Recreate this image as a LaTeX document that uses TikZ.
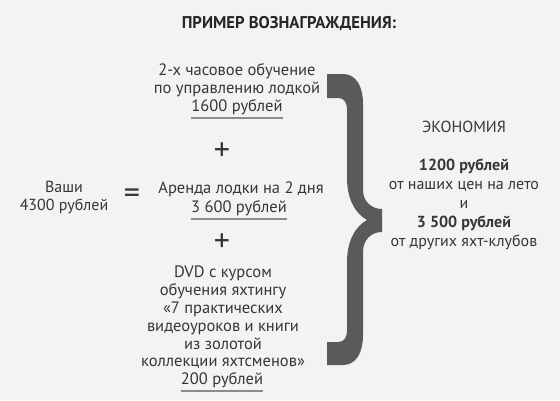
\documentclass[tikz,border=0pt]{standalone}
\usepackage{fontspec}
\setmainfont{PT Sans}
\newfontfamily\zagfont[FakeStretch=0.98]{PT Sans}
\definecolor{fon}{HTML}{F3F3F3}
\definecolor{tekst}{HTML}{363636}
\definecolor{skobka}{HTML}{5A5A5A}
\definecolor{cherta}{HTML}{8C8C8C}
\begin{document}
\begin{tikzpicture}[x=1pt, y=-1pt,
  every node/.style={text=tekst, inner sep=0pt, align=center, font=\fontsize{16.5}{17.8}\selectfont},
  znak/.style={font=\fontsize{32}{32}\selectfont},
  podch/.style={cherta, line width=1.6pt}]
  \fill[fon] (0,0) rectangle (560,400);
  \useasboundingbox (0,0) rectangle (560,400);

  % Заголовок
  \node (zag) at (289,23) [font=\zagfont\bfseries\fontsize{17}{20}\selectfont, text=black!85] {ПРИМЕР ВОЗНАГРАЖДЕНИЯ:};

  % Слагаемые
  \node (obuch) at (237,80) {2-х часовое обучение\\по управлению лодкой};
  \node (c1) at (237,107) {1600 рублей};
  \node (plus1) at (222,152) [znak] {+};
  \node (arenda) at (241,189) {Аренда лодки на 2 дня};
  \node (c2) at (239,208) {3 600 рублей};
  \node (plus2) at (222,243) [znak] {+};
  \node (dvd) at (223,317.5) {DVD с курсом\\обучения яхтингу\\«7 практических\\видеоуроков и книги\\из золотой\\коллекции яхтсменов»};
  \node (c3) at (222,380) {200 рублей};

  % Сумма
  \node (vashi) at (64,197) [font=\fontsize{16}{18}\selectfont] {Ваши\\4300 рублей};
  \node (ravno) at (132,196) [znak] {=};

  % Экономия
  \node (ekon) at (464,185) [font=\fontsize{16}{19}\selectfont] {ЭКОНОМИЯ\\[19pt]\textbf{1200 рублей}\\от наших цен на лето\\и\\\textbf{3 500 рублей}\\от других яхт-клубов};

  % Подчёркивания
  \draw[podch] ([yshift=-3pt]c1.south west) -- ([yshift=-3pt]c1.south east);
  \draw[podch] ([yshift=-3pt]c2.south west) -- ([yshift=-3pt]c2.south east);
  \draw[podch] ([yshift=-3pt]c3.south west) -- ([yshift=-3pt]c3.south east);

  % Скобка
  \fill[skobka] (327,74) -- (343,74)
    .. controls (356,74) and (363,86) .. (363,104)
    -- (363,190)
    .. controls (363,201) and (371,209) .. (382,209)
    -- (382,232)
    .. controls (371,232) and (363,240) .. (363,252)
    -- (363,335)
    .. controls (363,353) and (356,365) .. (343,365)
    -- (327,365) -- (327,342) -- (338,342)
    .. controls (344,342) and (347,338) .. (347,330)
    -- (347,262)
    .. controls (347,240) and (356,226) .. (367,220)
    .. controls (356,214) and (347,200) .. (347,178)
    -- (347,110)
    .. controls (347,102) and (344,98) .. (338,98)
    -- (327,98) -- cycle;
\end{tikzpicture}
\end{document}
